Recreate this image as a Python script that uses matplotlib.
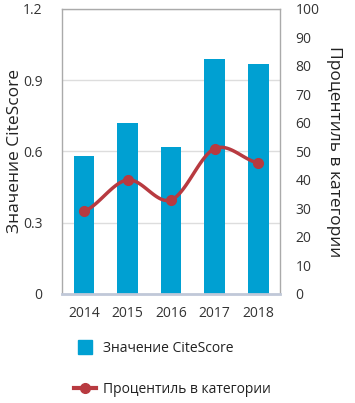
import numpy as np
import matplotlib
matplotlib.use("Agg")
import matplotlib.pyplot as plt
from matplotlib.lines import Line2D

years = ["2014", "2015", "2016", "2017", "2018"]
citescore = [0.58, 0.72, 0.62, 0.99, 0.97]
percentile = [29, 40, 33, 51, 46]

plt.rcParams['font.family'] = ['Open Sans', 'DejaVu Sans']

bar_color = '#00a0d2'
line_color = '#b83a40'


def smooth(xs, ys, n=30):
    # Catmull-Rom style curve through the points (drawing only)
    xs = np.asarray(xs, float)
    ys = np.asarray(ys, float)
    px = np.concatenate([[2 * xs[0] - xs[1]], xs, [2 * xs[-1] - xs[-2]]])
    py = np.concatenate([[ys[0]], ys, [ys[-1]]])
    ox, oy = [], []
    for i in range(1, len(px) - 2):
        t = np.linspace(0, 1, n)
        for p, o in ((px, ox), (py, oy)):
            p0, p1, p2, p3 = p[i - 1], p[i], p[i + 1], p[i + 2]
            o.extend(0.5 * (2 * p1 + (-p0 + p2) * t
                            + (2 * p0 - 5 * p1 + 4 * p2 - p3) * t ** 2
                            + (-p0 + 3 * p1 - 3 * p2 + p3) * t ** 3))
    return np.array(ox), np.array(oy)


fig = plt.figure(figsize=(3.55, 4.03), dpi=100)
ax = fig.add_axes([0.175, 0.2705, 0.614, 0.7075])
x = np.arange(len(years))

ax.bar(x, citescore, width=0.47, color=bar_color, zorder=2)
ax.set_xlim(-0.5, 4.5)
ax.set_ylim(0, 1.2)
ax.set_yticks([0, 0.3, 0.6, 0.9, 1.2])
ax.set_yticklabels(["0", "0.3", "0.6", "0.9", "1.2"])
ax.set_xticks(x)
ax.set_xticklabels(years)
ax.yaxis.grid(True, color='#dddddd', linewidth=1, zorder=0)
ax.set_axisbelow(True)
for side in ['top', 'left', 'right']:
    ax.spines[side].set_color('#aaaaaa')
    ax.spines[side].set_linewidth(1)
ax.spines['bottom'].set_color('#c0c8d8')
ax.spines['bottom'].set_linewidth(2)
ax.tick_params(length=0, labelsize=10, colors='#333333', pad=9)
ax.tick_params(axis='y', pad=14)
ax.set_ylabel("Значение CiteScore", fontsize=12.5, color='#222222', labelpad=0)

ax2 = ax.twinx()
ax2.set_ylim(0, 100)
ax2.set_yticks(range(0, 101, 10))
sx, sy = smooth(x, percentile)
ax2.plot(sx, sy, color=line_color, linewidth=2.5, zorder=3)
ax2.plot(x, percentile, 'o', color=line_color, markersize=7, zorder=4)
for s in ax2.spines.values():
    s.set_visible(False)
ax2.tick_params(length=0, labelsize=10, colors='#333333', pad=11)
ax2.set_ylabel("Процентиль в категории", fontsize=12.5, color='#222222',
               rotation=-90, labelpad=16)

handles = [
    Line2D([], [], marker='s', linestyle='none', color=bar_color, markersize=10),
    Line2D([], [], marker='o', color=line_color, linewidth=3, markersize=7),
]
fig.legend(handles, ["Значение CiteScore", "Процентиль в категории"],
           loc='center', bbox_to_anchor=(0.485, 0.085), frameon=False,
           fontsize=10, labelspacing=1.9, handlelength=1.6, handletextpad=0.5,
           labelcolor='#222222')

fig.savefig("out.png", dpi=100)
